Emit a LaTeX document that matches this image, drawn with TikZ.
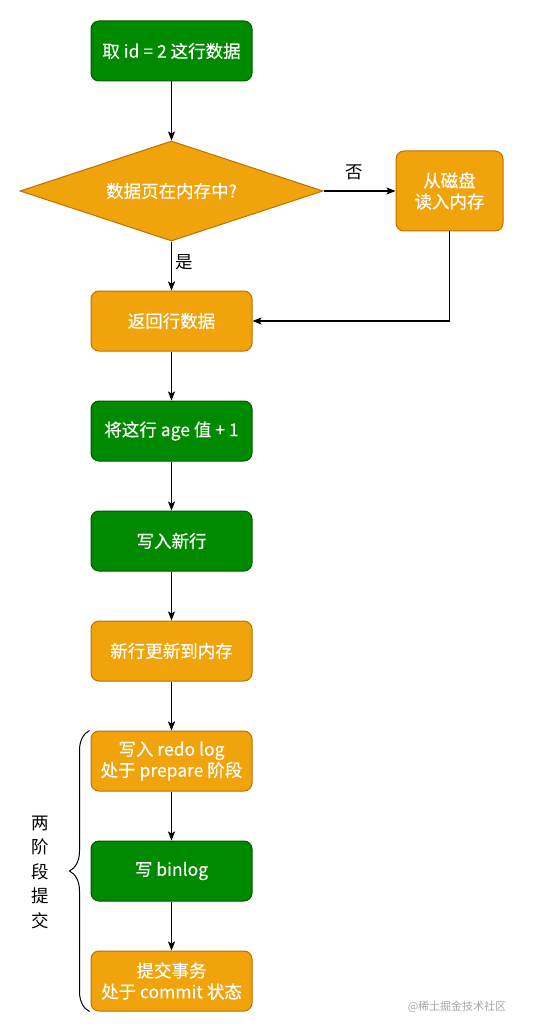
\documentclass[tikz,border=0pt]{standalone}
\usepackage{fontspec}
\setmainfont{Noto Sans CJK SC}
\newfontfamily\boxfont{Noto Sans CJK SC}[FakeBold=0.3]
\usetikzlibrary{arrows.meta,shapes.geometric,decorations.pathreplacing}
\definecolor{gfill}{HTML}{008A00}
\definecolor{gline}{HTML}{005700}
\definecolor{ofill}{HTML}{F0A30A}
\definecolor{oline}{HTML}{BD7000}
\begin{document}
\begin{tikzpicture}[x=1pt,y=-1pt,
 box/.style={rounded corners=8pt, minimum width=161pt, minimum height=60pt, inner sep=1pt, align=center, text=white, font=\boxfont\fontsize{17.5}{21}\selectfont, line width=1pt},
 gbox/.style={box, fill=gfill, draw=gline},
 obox/.style={box, fill=ofill, draw=oline},
 arr/.style={-{Stealth[length=9pt,width=7pt,inset=2pt]}, line width=1.2pt, black},
 lbl/.style={font=\fontsize{17.5}{17.5}\selectfont, text=black}]
\useasboundingbox (0,0) rectangle (542,1032);
\fill[white] (0,0) rectangle (542,1032);
\node[gbox] (n1) at (171.5,51) {取 id = 2 这行数据};
\node[diamond, aspect=3, minimum width=303pt, minimum height=100pt, inner sep=0pt, fill=ofill, draw=oline, text=white, font=\boxfont\fontsize{17.5}{21}\selectfont, line width=1pt] (d) at (171.5,191) {数据页在内存中?};
\node[obox, minimum width=107pt, minimum height=80pt] (disk) at (449.5,191) {从磁盘\\读入内存};
\node[obox] (ret) at (171.5,321) {返回行数据};
\node[gbox] (age) at (171.5,431) {将这行 age 值 + 1};
\node[gbox] (wr) at (171.5,541) {写入新行};
\node[obox] (mem) at (171.5,651) {新行更新到内存};
\node[obox] (redo) at (171.5,761) {写入 redo log\\处于 prepare 阶段};
\node[gbox] (bin) at (171.5,871) {写 binlog};
\node[obox] (cmt) at (171.5,981) {提交事务\\处于 commit 状态};
\node[lbl] (no) at (354,172) {否};
\node[lbl] (yes) at (184.5,262) {是};
\draw[arr] (n1) -- (d);
\draw[arr] (d.east) -- (disk.west);
\draw[arr] (d.south) -- (ret.north);
\draw[arr] (disk.south) |- (ret.east);
\draw[arr] (ret) -- (age);
\draw[arr] (age) -- (wr);
\draw[arr] (wr) -- (mem);
\draw[arr] (mem) -- (redo);
\draw[arr] (redo) -- (bin);
\draw[arr] (bin) -- (cmt);
\coordinate (bb) at ([xshift=-1pt]cmt.south west);
\coordinate (bt) at ([xshift=-1pt]redo.north west);
\draw[decorate, decoration={brace, amplitude=20pt}, line width=1pt] (bb) -- (bt);
\node[lbl, align=center, font=\fontsize{17.5}{24.5}\selectfont] (tp) at (40,872) {两\\阶\\段\\提\\交};
\node[font=\fontsize{11}{11}\selectfont, text=black!35] (wm) at (457,1007) {@稀土掘金技术社区};
\end{tikzpicture}
\end{document}
